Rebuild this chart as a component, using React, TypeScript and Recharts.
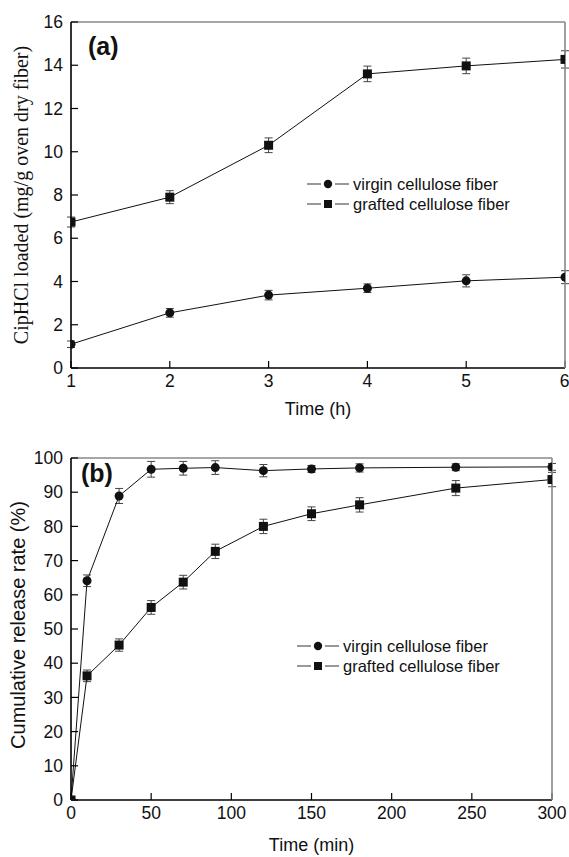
import { ComposedChart, Line, XAxis, YAxis, ErrorBar, Legend } from 'recharts'

const SANS = '"Liberation Sans", Arial, Helvetica, sans-serif'
const SERIF = '"Liberation Serif", "Times New Roman", serif'

// (a) drug loading vs. time
const loadHours = [1, 2, 3, 4, 5, 6]
const virginLoad = [1.1, 2.55, 3.37, 3.69, 4.03, 4.2]
const virginLoadErr = [0.15, 0.2, 0.22, 0.2, 0.28, 0.3]
const graftedLoad = [6.75, 7.9, 10.3, 13.6, 13.97, 14.27]
const graftedLoadErr = [0.23, 0.3, 0.34, 0.36, 0.36, 0.4]
const loadTicks = [0, 2, 4, 6, 8, 10, 12, 14, 16]
const loadMinorTicks = [1, 3, 5, 7, 9, 11, 13, 15]
const hourMinorTicks = [1.5, 2.5, 3.5, 4.5, 5.5]

// (b) cumulative release vs. time
const releaseMinutes = [0, 10, 30, 50, 70, 90, 120, 150, 180, 240, 300]
const virginRelease = [0, 64.1, 88.9, 96.7, 97.0, 97.2, 96.3, 96.8, 97.1, 97.3, 97.4]
const virginReleaseErr = [0, 1.7, 2.2, 2.3, 2.0, 2.0, 1.8, 1.0, 1.2, 1.0, 1.0]
const graftedRelease = [0, 36.3, 45.3, 56.3, 63.7, 72.7, 80.0, 83.7, 86.3, 91.2, 93.7]
const graftedReleaseErr = [0, 1.7, 1.8, 2.0, 2.0, 2.1, 2.1, 2.0, 2.1, 2.2, 2.1]
const releaseTicks = [0, 10, 20, 30, 40, 50, 60, 70, 80, 90, 100]
const releaseMinorTicks = [5, 15, 25, 35, 45, 55, 65, 75, 85, 95]
const minuteTicks = [0, 50, 100, 150, 200, 250, 300]
const minuteMinorTicks = [25, 75, 125, 175, 225, 275]

const seriesOrder = ['virgin', 'grafted']
const seriesNames: Record<string, string> = {
  virgin: 'virgin cellulose fiber',
  grafted: 'grafted cellulose fiber',
}

const loadData = loadHours.map((t, i) => ({
  t,
  virgin: virginLoad[i],
  virginErr: virginLoadErr[i],
  grafted: graftedLoad[i],
  graftedErr: graftedLoadErr[i],
}))

const releaseData = releaseMinutes.map((t, i) => ({
  t,
  virgin: virginRelease[i],
  virginErr: virginReleaseErr[i],
  grafted: graftedRelease[i],
  graftedErr: graftedReleaseErr[i],
}))

const INK = '#111'
const tickFont = { fill: INK, fontSize: 17.5, fontFamily: SANS }

const SquareDot = (props: any) => {
  const { cx, cy, index } = props
  if (cx == null || cy == null) return <g key={`sq-${index}`} />
  return <rect key={`sq-${index}`} x={cx - 4.5} y={cy - 4.5} width={9} height={9} fill={INK} />
}

// rotated axis title, centred on the axis box recharts hands us
const axisTitle = (text: string, family: string, size: number, dx: number, dy = 0) => (props: any) => {
  const vb = props.viewBox || {}
  const x = vb.x + dx
  const y = vb.y + vb.height / 2 + dy
  return (
    <text
      x={x}
      y={y}
      transform={`rotate(-90, ${x}, ${y})`}
      textAnchor="middle"
      dominantBaseline="central"
      fill={INK}
      fontSize={size}
      fontFamily={family}
    >
      {text}
    </text>
  )
}

function LegendBox({ payload }: any) {
  const items = [...(payload || [])].sort(
    (a: any, b: any) => seriesOrder.indexOf(a.dataKey) - seriesOrder.indexOf(b.dataKey)
  )
  return (
    <div style={{ fontFamily: SANS, fontSize: 16.5, color: INK }}>
      {items.map((p: any) => (
        <div key={p.dataKey} style={{ display: 'flex', alignItems: 'center', height: 20 }}>
          <svg width={45} height={12} style={{ marginRight: 1 }}>
            <line x1={0} x2={14} y1={6} y2={6} stroke="#333" strokeWidth={1} />
            <line x1={28} x2={42} y1={6} y2={6} stroke="#333" strokeWidth={1} />
            {p.dataKey === 'grafted' ? (
              <rect x={17} y={2} width={8} height={8} fill={INK} />
            ) : (
              <circle cx={21} cy={6} r={4.2} fill={INK} />
            )}
          </svg>
          <span>{p.value}</span>
        </div>
      ))}
    </div>
  )
}

function Series() {
  return [
    <Line
      key="virgin"
      xAxisId="main"
      yAxisId="main"
      dataKey="virgin"
      name={seriesNames.virgin}
      stroke={INK}
      strokeWidth={1}
      dot={{ r: 4.5, fill: INK, stroke: INK, strokeWidth: 0 }}
      activeDot={false}
      isAnimationActive={false}
    >
      <ErrorBar dataKey="virginErr" direction="y" width={4} stroke="#444" strokeWidth={1} isAnimationActive={false} />
    </Line>,
    <Line
      key="grafted"
      xAxisId="main"
      yAxisId="main"
      dataKey="grafted"
      name={seriesNames.grafted}
      stroke={INK}
      strokeWidth={1}
      dot={SquareDot}
      activeDot={false}
      isAnimationActive={false}
    >
      <ErrorBar dataKey="graftedErr" direction="y" width={4} stroke="#444" strokeWidth={1} isAnimationActive={false} />
    </Line>,
  ]
}

function LoadingChart() {
  return (
    <ComposedChart width={569} height={425} data={loadData} margin={{ top: 21, right: 3, bottom: 0, left: 0 }}>
      <XAxis
        xAxisId="main"
        dataKey="t"
        type="number"
        domain={[1, 6]}
        ticks={loadHours}
        allowDataOverflow
        height={56}
        axisLine={{ stroke: '#000', strokeWidth: 1.6 }}
        tickLine={{ stroke: '#000', strokeWidth: 1.2 }}
        tickSize={-7}
        tickMargin={14}
        tick={tickFont}
        label={{ value: 'Time (h)', position: 'insideBottom', offset: 9, fill: INK, fontSize: 18, fontFamily: SANS }}
      />
      <XAxis
        xAxisId="minor"
        dataKey="t"
        type="number"
        domain={[1, 6]}
        ticks={hourMinorTicks}
        allowDataOverflow
        height={1}
        axisLine={false}
        tickLine={{ stroke: '#000', strokeWidth: 1.2 }}
        tickSize={-4}
        tick={false}
      />
      <XAxis xAxisId="frame" orientation="top" type="number" domain={[1, 6]} height={1} axisLine={{ stroke: '#888', strokeWidth: 1.6 }} tickLine={false} tick={false} />
      <YAxis
        yAxisId="main"
        type="number"
        domain={[0, 16]}
        ticks={loadTicks}
        allowDataOverflow
        width={70}
        axisLine={{ stroke: '#000', strokeWidth: 1.6 }}
        tickLine={{ stroke: '#000', strokeWidth: 1.2 }}
        tickSize={-7}
        tickMargin={15}
        tick={tickFont}
        label={axisTitle('CipHCl loaded (mg/g oven dry fiber)', SERIF, 20, 20)}
      />
      <YAxis
        yAxisId="minor"
        type="number"
        domain={[0, 16]}
        ticks={loadMinorTicks}
        allowDataOverflow
        width={1}
        axisLine={false}
        tickLine={{ stroke: '#000', strokeWidth: 1.2 }}
        tickSize={-4}
        tick={false}
      />
      <YAxis yAxisId="frame" orientation="right" type="number" domain={[0, 16]} width={1} axisLine={{ stroke: '#888', strokeWidth: 1.6 }} tickLine={false} tick={false} />
      <Legend
        layout="vertical"
        align="center"
        verticalAlign="middle"
        content={<LegendBox />}
        wrapperStyle={{ top: 174, left: 307, width: 'auto' }}
      />
      {Series()}
    </ComposedChart>
  )
}

function ReleaseChart() {
  return (
    <ComposedChart width={569} height={432} data={releaseData} margin={{ top: 32, right: 16, bottom: 0, left: 0 }}>
      <XAxis
        xAxisId="main"
        dataKey="t"
        type="number"
        domain={[0, 300]}
        ticks={minuteTicks}
        allowDataOverflow
        height={56}
        axisLine={{ stroke: '#000', strokeWidth: 1.6 }}
        tickLine={{ stroke: '#000', strokeWidth: 1.2 }}
        tickSize={-7}
        tickMargin={14}
        tick={tickFont}
        label={{ value: 'Time (min)', position: 'insideBottom', offset: 5, fill: INK, fontSize: 18, fontFamily: SANS }}
      />
      <XAxis
        xAxisId="minor"
        dataKey="t"
        type="number"
        domain={[0, 300]}
        ticks={minuteMinorTicks}
        allowDataOverflow
        height={1}
        axisLine={false}
        tickLine={{ stroke: '#000', strokeWidth: 1.2 }}
        tickSize={-4}
        tick={false}
      />
      <XAxis xAxisId="frame" orientation="top" type="number" domain={[0, 300]} height={1} axisLine={{ stroke: '#888', strokeWidth: 1.6 }} tickLine={false} tick={false} />
      <YAxis
        yAxisId="main"
        type="number"
        domain={[0, 100]}
        ticks={releaseTicks}
        allowDataOverflow
        width={70}
        axisLine={{ stroke: '#000', strokeWidth: 1.6 }}
        tickLine={{ stroke: '#000', strokeWidth: 1.2 }}
        tickSize={-7}
        tickMargin={15}
        tick={tickFont}
        label={axisTitle('Cumulative release rate (%)', SANS, 20, 17, -4)}
      />
      <YAxis
        yAxisId="minor"
        type="number"
        domain={[0, 100]}
        ticks={releaseMinorTicks}
        allowDataOverflow
        width={1}
        axisLine={false}
        tickLine={{ stroke: '#000', strokeWidth: 1.2 }}
        tickSize={-4}
        tick={false}
      />
      <YAxis yAxisId="frame" orientation="right" type="number" domain={[0, 100]} width={1} axisLine={{ stroke: '#888', strokeWidth: 1.6 }} tickLine={false} tick={false} />
      <Legend
        layout="vertical"
        align="center"
        verticalAlign="middle"
        content={<LegendBox />}
        wrapperStyle={{ top: 211, left: 297, width: 'auto' }}
      />
      {Series()}
    </ComposedChart>
  )
}

const panelTag = {
  position: 'absolute' as const,
  fontFamily: SANS,
  fontWeight: 700,
  fontSize: 25,
  lineHeight: '25px',
  color: INK,
}

export default function App() {
  return (
    <div style={{ position: 'absolute', left: 0, top: 0, width: 569, height: 857, background: '#fff' }}>
      <div style={{ position: 'absolute', left: 0, top: 0 }}>
        <LoadingChart />
      </div>
      <div style={{ position: 'absolute', left: 0, top: 425 }}>
        <ReleaseChart />
      </div>
      <div style={{ ...panelTag, left: 88, top: 34 }}>(a)</div>
      <div style={{ ...panelTag, left: 81, top: 461 }}>(b)</div>
    </div>
  )
}
